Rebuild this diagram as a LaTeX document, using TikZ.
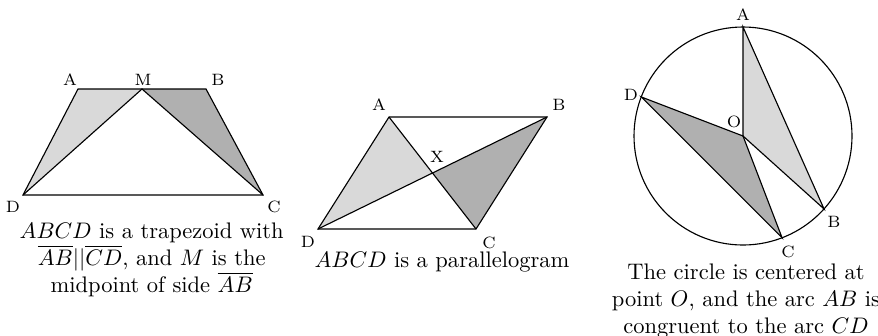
\documentclass[tikz,border=0pt]{standalone}
\usetikzlibrary{calc}
\definecolor{lightshade}{gray}{0.85}
\definecolor{darkshade}{gray}{0.69}
\begin{document}
\begin{tikzpicture}[x=0.4444pt,y=-0.4444pt,
  edge/.style={line width=0.5pt, line join=miter},
  ptlabel/.style={font={\fontsize{7.3}{8}\selectfont}, inner sep=0pt},
  caption/.style={font={\fontsize{10}{12}\selectfont\lineskiplimit=-20pt}, align=center, inner sep=0pt}]
\useasboundingbox (0,0) rectangle (878,335);
% ---------- trapezoid ----------
\coordinate (tA) at (78,89);
\coordinate (tB) at (206,89);
\coordinate (tM) at (142,89);
\coordinate (tC) at (263,195);
\coordinate (tD) at (23,195);
\fill[lightshade] (tA) -- (tM) -- (tD) -- cycle;
\fill[darkshade] (tM) -- (tB) -- (tC) -- cycle;
\draw[edge] (tA) -- (tB) -- (tC) -- (tD) -- cycle;
\draw[edge] (tD) -- (tM) -- (tC);
\node[ptlabel] (tlA) at (70,80) {A};
\node[ptlabel] (tlM) at (143,80) {M};
\node[ptlabel] (tlB) at (218,80) {B};
\node[ptlabel] (tlD) at (13,207) {D};
\node[ptlabel] (tlC) at (274,207) {C};
\node[caption, anchor=north] (tcap) at (151.7,222) {$ABCD$ is a trapezoid with\\ $\overline{AB}||\overline{CD}$, and $M$ is the\\ midpoint of side $\overline{AB}$};
% ---------- parallelogram ----------
\coordinate (pA) at (389,117);
\coordinate (pB) at (547,117);
\coordinate (pC) at (476,229);
\coordinate (pD) at (318,229);
\coordinate (pX) at ($(pA)!0.5!(pC)$);
\fill[lightshade] (pA) -- (pX) -- (pD) -- cycle;
\fill[darkshade] (pX) -- (pB) -- (pC) -- cycle;
\draw[edge] (pA) -- (pB) -- (pC) -- (pD) -- cycle;
\draw[edge] (pA) -- (pC);
\draw[edge] (pB) -- (pD);
\node[ptlabel] (plA) at (379,105) {A};
\node[ptlabel] (plB) at (559,105) {B};
\node[ptlabel] (plX) at (437,157) {X};
\node[ptlabel] (plD) at (308,242) {D};
\node[ptlabel] (plC) at (489,243) {C};
\node[caption, anchor=base] (pcap) at (442,267) {$ABCD$ is a parallelogram};
% ---------- circle ----------
\coordinate (cO) at (743,136);
\coordinate (cA) at ($(cO)+(270:109)$);
\coordinate (cB) at ($(cO)+(42:109)$);
\coordinate (cC) at ($(cO)+(69:109)$);
\coordinate (cD) at ($(cO)+(201:109)$);
\fill[lightshade] (cO) -- (cA) -- (cB) -- cycle;
\fill[darkshade] (cO) -- (cD) -- (cC) -- cycle;
\draw[edge] (cO) circle[radius=109];
\draw[edge] (cO) -- (cA) -- (cB) -- cycle;
\draw[edge] (cO) -- (cD) -- (cC) -- cycle;
\node[ptlabel] (clA) at (743,15) {A};
\node[ptlabel] (clD) at (631,95) {D};
\node[ptlabel] (clO) at (734,122) {O};
\node[ptlabel] (clB) at (834,222) {B};
\node[ptlabel] (clC) at (788,252) {C};
\node[caption, anchor=north] (ccap) at (746,263) {The circle is centered at\\ point $O$, and the arc $AB$ is\\ congruent to the arc $CD$};
\end{tikzpicture}
\end{document}
